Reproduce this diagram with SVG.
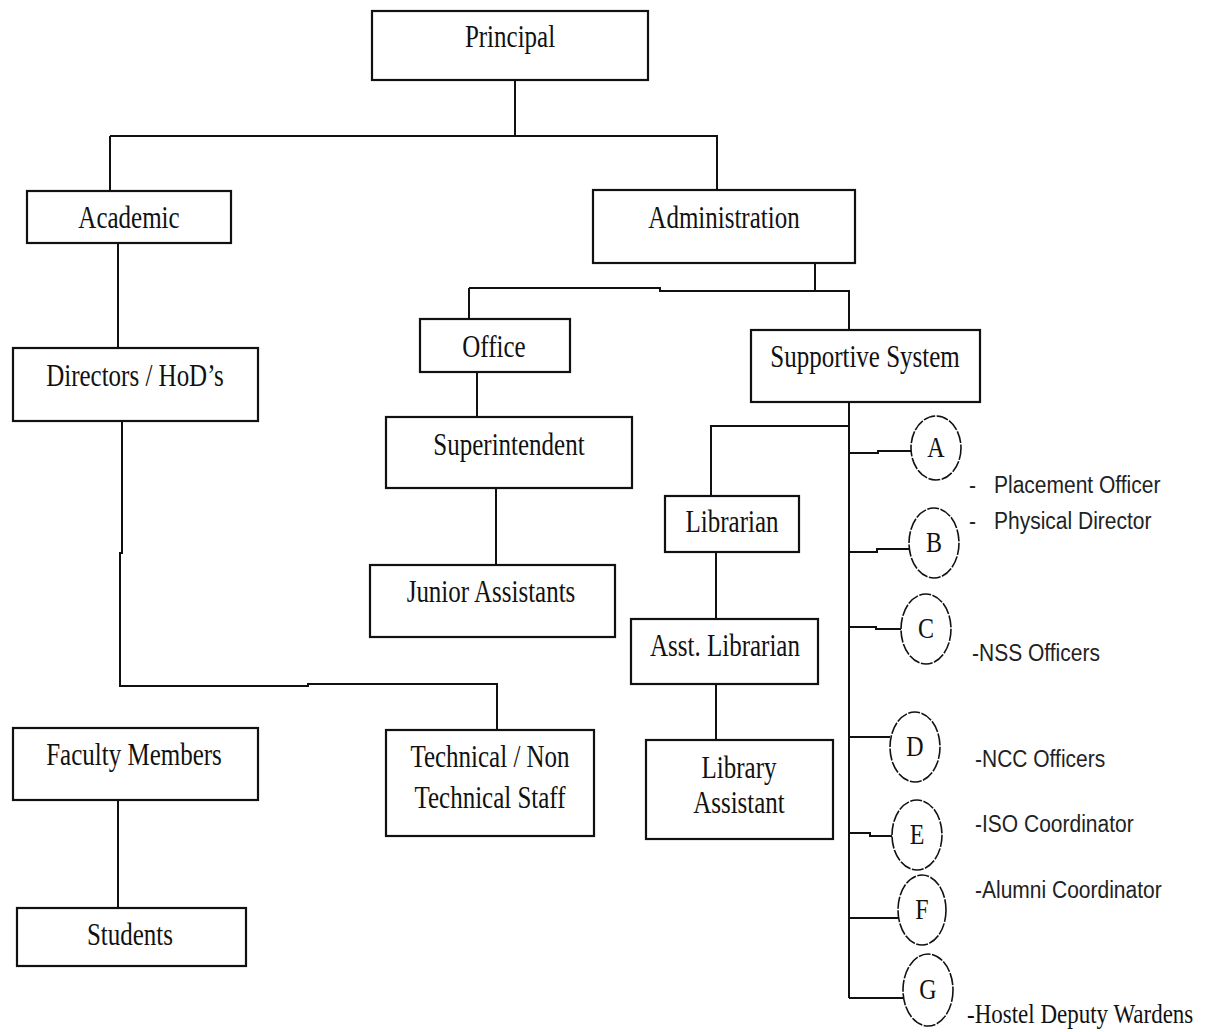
<svg xmlns="http://www.w3.org/2000/svg" width="1206" height="1032" viewBox="0 0 1206 1032">
<style>
.box{fill:#fff;stroke:#111;stroke-width:2.2}
.ln{fill:none;stroke:#111;stroke-width:2}
.circ{fill:#fff;stroke:#111;stroke-width:1.6;stroke-dasharray:12 1.5}
.t{font-family:"Liberation Serif","Times New Roman",serif;font-size:25px;fill:#111;text-anchor:middle}
.c{font-family:"Liberation Serif","Times New Roman",serif;font-size:24px;fill:#111;text-anchor:middle}
.s{font-family:"Liberation Sans",Arial,sans-serif;font-size:21px;fill:#222}
.h{font-family:"Liberation Serif","Times New Roman",serif;font-size:23px;fill:#111}
</style>
<rect width="1206" height="1032" fill="#fff"/>
<g id="connectors">
<path class="ln" d="M515 80V136M110 136H717V190M110 136V191"/>
<path class="ln" d="M118 243V348"/>
<path class="ln" d="M122 421V553H120V686H308V684H497V730"/>
<path class="ln" d="M815 263V291M469 288H660V291H849V330M469 288V319"/>
<path class="ln" d="M477 372V417M496 488V565"/>
<path class="ln" d="M849 402V998M849 426H711V496"/>
<path class="ln" d="M716 552V619M716 684V740"/>
<path class="ln" d="M118 800V908"/>
<path class="ln" d="M849 453H878V451H911M849 552H877V549H909M849 627H876V629H901M849 737H890M849 833H870V836H892M849 918H898M849 998H903"/>
</g>
<g id="principal"><rect class="box" x="372" y="11" width="276" height="69"/><text class="t" transform="translate(510 47) scale(1 1.25)">Principal</text></g>
<g id="academic"><rect class="box" x="27" y="191" width="204" height="52"/><text class="t" transform="translate(129 228) scale(1 1.25)">Academic</text></g>
<g id="administration"><rect class="box" x="593" y="190" width="262" height="73"/><text class="t" transform="translate(724 228) scale(1 1.25)">Administration</text></g>
<g id="directors"><rect class="box" x="13" y="348" width="245" height="73"/><text class="t" transform="translate(135 386) scale(1 1.25)">Directors / HoD’s</text></g>
<g id="office"><rect class="box" x="420" y="319" width="150" height="53"/><text class="t" transform="translate(494 357) scale(1 1.25)">Office</text></g>
<g id="supportive"><rect class="box" x="751" y="330" width="229" height="72"/><text class="t" transform="translate(865 367) scale(1 1.25)">Supportive System</text></g>
<g id="superintendent"><rect class="box" x="386" y="417" width="246" height="71"/><text class="t" transform="translate(509 455) scale(1 1.25)">Superintendent</text></g>
<g id="junior"><rect class="box" x="370" y="565" width="245" height="72"/><text class="t" transform="translate(491 602) scale(1 1.25)">Junior Assistants</text></g>
<g id="librarian"><rect class="box" x="665" y="496" width="134" height="56"/><text class="t" transform="translate(732 532) scale(1 1.25)">Librarian</text></g>
<g id="asst-librarian"><rect class="box" x="631" y="619" width="187" height="65"/><text class="t" transform="translate(725 656) scale(1 1.25)">Asst. Librarian</text></g>
<g id="library-assistant"><rect class="box" x="646" y="740" width="187" height="99"/><text class="t" transform="translate(739 778) scale(1 1.25)">Library</text><text class="t" transform="translate(739 813) scale(1 1.25)">Assistant</text></g>
<g id="faculty"><rect class="box" x="13" y="728" width="245" height="72"/><text class="t" transform="translate(134 765) scale(1 1.25)">Faculty Members</text></g>
<g id="technical"><rect class="box" x="386" y="730" width="208" height="106"/><text class="t" transform="translate(490 767) scale(1 1.25)">Technical / Non</text><text class="t" transform="translate(490 808) scale(1 1.25)">Technical Staff</text></g>
<g id="students"><rect class="box" x="17" y="908" width="229" height="58"/><text class="t" transform="translate(130 945) scale(1 1.25)">Students</text></g>
<g id="circle-a"><ellipse class="circ" cx="936" cy="448" rx="25" ry="32"/><text class="c" transform="translate(936 457) scale(1 1.2)">A</text></g>
<g id="circle-b"><ellipse class="circ" cx="934" cy="543" rx="25" ry="35"/><text class="c" transform="translate(934 552) scale(1 1.2)">B</text></g>
<g id="circle-c"><ellipse class="circ" cx="926" cy="629" rx="25" ry="35"/><text class="c" transform="translate(926 638) scale(1 1.2)">C</text></g>
<g id="circle-d"><ellipse class="circ" cx="915" cy="747" rx="25" ry="35"/><text class="c" transform="translate(915 756) scale(1 1.2)">D</text></g>
<g id="circle-e"><ellipse class="circ" cx="917" cy="835" rx="25" ry="35"/><text class="c" transform="translate(917 844) scale(1 1.2)">E</text></g>
<g id="circle-f"><ellipse class="circ" cx="922" cy="910" rx="24" ry="35"/><text class="c" transform="translate(922 919) scale(1 1.2)">F</text></g>
<g id="circle-g"><ellipse class="circ" cx="928" cy="990" rx="25" ry="36"/><text class="c" transform="translate(928 999) scale(1 1.2)">G</text></g>
<g id="labels">
<text class="s" transform="translate(0 493) scale(1 1.1)"><tspan x="969">-</tspan><tspan x="994">Placement Officer</tspan></text>
<text class="s" transform="translate(0 529) scale(1 1.1)"><tspan x="969">-</tspan><tspan x="994">Physical Director</tspan></text>
<text class="s" transform="translate(972 661) scale(1 1.1)">-NSS Officers</text>
<text class="s" transform="translate(975 767) scale(1 1.1)">-NCC Officers</text>
<text class="s" transform="translate(975 832) scale(1 1.1)">-ISO Coordinator</text>
<text class="s" transform="translate(975 898) scale(1 1.1)">-Alumni Coordinator</text>
<text class="h" transform="translate(967 1023) scale(1 1.2)">-Hostel Deputy Wardens</text>
</g>
</svg>
